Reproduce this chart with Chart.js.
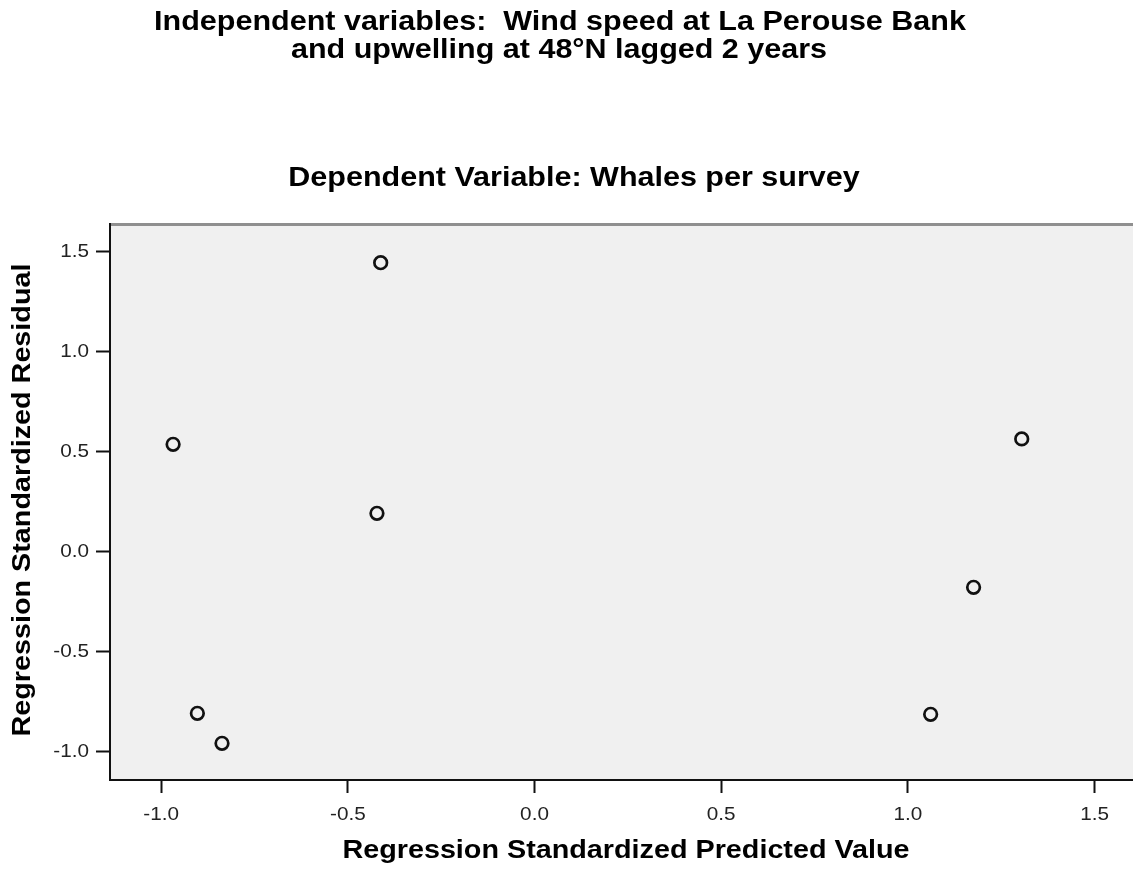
<!DOCTYPE html>
<html>
<head>
<meta charset="utf-8">
<title>Whales per survey – residual plot</title>
<script src="https://cdn.jsdelivr.net/npm/chart.js@4/dist/chart.umd.min.js"></script>
<style>
  html, body { margin: 0; padding: 0; background: #ffffff; }
  #wrap { width: 1133px; height: 871px; }
</style>
</head>
<body>
<div id="wrap"><canvas id="c" width="1133" height="871"></canvas></div>
<script>
// Regression standardized predicted value (x) and standardized residual (y), one per survey year
const predicted = [-0.412, -0.968, -0.422, -0.903, -0.837, 1.305, 1.176, 1.061];
const residual  = [ 1.445,  0.537,  0.192, -0.808, -0.958, 0.564, -0.178, -0.813];

// Axis tick values
const xTickValues = [-1.0, -0.5, 0.0, 0.5, 1.0, 1.5];
const yTickValues = [-1.0, -0.5, 0.0, 0.5, 1.0, 1.5];

// Heading and axis text
const headingLines = [
  'Independent variables:  Wind speed at La Perouse Bank',
  'and upwelling at 48\u00B0N lagged 2 years'
];
const subHeading = 'Dependent Variable: Whales per survey';
const xAxisTitle = 'Regression Standardized Predicted Value';
const yAxisTitle = 'Regression Standardized Residual';

const points = predicted.map((x, i) => ({ x: x, y: residual[i] }));

const FONT = "'Liberation Sans', Arial, Helvetica, sans-serif";
const tickFmt = v => Number(v).toFixed(1);

// Draws a string with a wide (horizontally stretched) face, optionally rotated
function wideText(ctx, text, x, y, font, stretch, align, rotated, color) {
  ctx.save();
  ctx.translate(x, y);
  if (rotated) ctx.rotate(-Math.PI / 2);
  ctx.scale(stretch, 1);
  ctx.font = font;
  ctx.fillStyle = color || '#000';
  ctx.textAlign = align;
  ctx.textBaseline = 'middle';
  ctx.fillText(text, 0, 0);
  ctx.restore();
}

// Grey plot panel with a soft top frame line
const panelPlugin = {
  id: 'panel',
  beforeDraw(chart) {
    const { ctx, chartArea: a } = chart;
    ctx.save();
    ctx.fillStyle = '#f0f0f0';
    ctx.fillRect(a.left, a.top, a.right - a.left, a.bottom - a.top);
    ctx.strokeStyle = '#8f8f8f';
    ctx.lineWidth = 3;
    ctx.beginPath();
    ctx.moveTo(a.left, a.top + 0.5);
    ctx.lineTo(a.right, a.top + 0.5);
    ctx.stroke();
    ctx.restore();
  }
};

// Headings, tick labels and axis titles
const textPlugin = {
  id: 'texts',
  afterDraw(chart) {
    const { ctx, chartArea: a } = chart;
    const xs = chart.scales.x, ys = chart.scales.y;
    const headFont = 'bold 27px ' + FONT;
    wideText(ctx, headingLines[0], 560, 23, headFont, 1.13, 'center');
    wideText(ctx, headingLines[1], 559, 51, headFont, 1.13, 'center');
    wideText(ctx, subHeading, 574, 179, headFont, 1.13, 'center');

    const tickFont = '18px ' + FONT;
    xTickValues.forEach(v => {
      wideText(ctx, tickFmt(v), xs.getPixelForValue(v), a.bottom + 35, tickFont, 1.15, 'center', false, '#222');
    });
    yTickValues.forEach(v => {
      wideText(ctx, tickFmt(v), 89, ys.getPixelForValue(v), tickFont, 1.15, 'right', false, '#222');
    });

    const axisFont = 'bold 25px ' + FONT;
    wideText(ctx, xAxisTitle, 626, 851, axisFont, 1.15, 'center');
    wideText(ctx, yAxisTitle, 23, 500, axisFont, 1.15, 'center', true);
  }
};

new Chart(document.getElementById('c'), {
  type: 'scatter',
  data: {
    datasets: [{
      data: points,
      pointStyle: 'circle',
      pointRadius: 6.3,
      pointHoverRadius: 6.3,
      pointBorderWidth: 2.7,
      borderColor: '#111111',
      backgroundColor: 'rgba(0,0,0,0)'
    }]
  },
  options: {
    responsive: false,
    animation: false,
    events: [],
    layout: { autoPadding: false, padding: { top: 224, left: 0, right: 0, bottom: 0 } },
    plugins: {
      legend: { display: false },
      tooltip: { enabled: false },
      title: { display: false }
    },
    scales: {
      x: {
        type: 'linear',
        min: -1.137,
        max: 1.603,
        afterBuildTicks(scale) { scale.ticks = xTickValues.map(v => ({ value: v })); },
        afterFit(scale) { scale.height = 91; },
        grid: {
          drawOnChartArea: false,
          drawTicks: true,
          tickLength: 13,
          tickWidth: 2,
          tickColor: '#111'
        },
        border: { display: true, color: '#111', width: 2 },
        ticks: { display: false },
        title: { display: false }
      },
      y: {
        type: 'linear',
        min: -1.1415,
        max: 1.6385,
        afterBuildTicks(scale) { scale.ticks = yTickValues.map(v => ({ value: v })); },
        afterFit(scale) { scale.width = 110; },
        grid: {
          drawOnChartArea: false,
          drawTicks: true,
          tickLength: 14,
          tickWidth: 2,
          tickColor: '#111'
        },
        border: { display: true, color: '#111', width: 2 },
        ticks: { display: false },
        title: { display: false }
      }
    }
  },
  plugins: [panelPlugin, textPlugin]
});
</script>
</body>
</html>
